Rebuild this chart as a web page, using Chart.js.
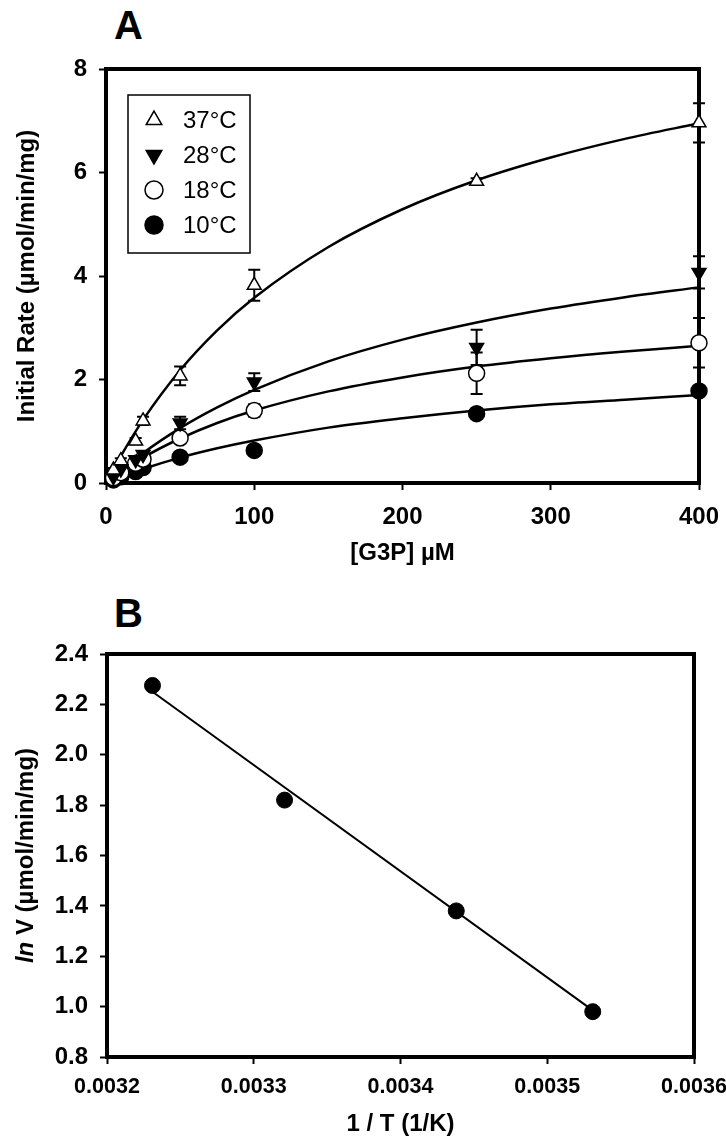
<!DOCTYPE html>
<html>
<head>
<meta charset="utf-8">
<script src="https://cdn.jsdelivr.net/npm/chart.js@4/dist/chart.umd.min.js"></script>
<style>
  body { margin: 0; background: #fff; width: 726px; height: 1145px; position: relative; overflow: hidden; font-family: "Liberation Sans", Arial, sans-serif; }
  .panel-label { position: absolute; left: 114px; font-weight: bold; font-size: 40px; line-height: 40px; color: #000; }
  canvas { position: absolute; left: 0; }
</style>
</head>
<body>
<div class="panel-label" style="top:5px">A</div>
<div class="panel-label" style="top:593px">B</div>
<canvas id="chart-a" width="726" height="580" style="top:0"></canvas>
<canvas id="chart-b" width="726" height="565" style="top:580px"></canvas>
<script>
// Panel A - initial rate vs [G3P]
const conc = [5, 10, 20, 25, 50, 100, 250, 400];
const rate37 = [0.25, 0.43, 0.81, 1.2, 2.07, 3.82, 5.83, 6.96];
const err37 = [0.04, 0.05, 0.06, 0.08, 0.18, 0.3, 0.06, 0.38];
const rate28 = [0.12, 0.27, 0.45, 0.55, 1.16, 1.95, 2.62, 4.07];
const err28 = [0.03, 0.04, 0.05, 0.06, 0.12, 0.17, 0.34, 0.31];
const rate18 = [0.1, 0.2, 0.38, 0.46, 0.87, 1.4, 2.12, 2.71];
const err18 = [0.02, 0.03, 0.04, 0.05, 0.08, 0.12, 0.4, 0.48];
const rate10 = [0.06, 0.12, 0.22, 0.3, 0.5, 0.63, 1.34, 1.78];
const err10 = [0.02, 0.02, 0.03, 0.03, 0.04, 0.05, 0.05, 0.06];

// fitted curves
const fitConc = [0, 10, 25, 50, 75, 100, 150, 200, 250, 300, 350, 400];
const fit37 = [0, 0.52, 1.22, 2.18, 2.95, 3.58, 4.56, 5.29, 5.85, 6.29, 6.65, 6.95];
const fit28 = [0, 0.25, 0.58, 1.06, 1.46, 1.80, 2.35, 2.77, 3.10, 3.37, 3.59, 3.78];
const fit18 = [0, 0.21, 0.49, 0.86, 1.16, 1.40, 1.77, 2.04, 2.25, 2.41, 2.54, 2.65];
const fit10 = [0, 0.11, 0.27, 0.49, 0.67, 0.82, 1.07, 1.25, 1.40, 1.52, 1.61, 1.70];

const tempLabels = ['37°C', '28°C', '18°C', '10°C'];

// Panel B - Arrhenius plot
const invT = [0.003231, 0.003321, 0.003438, 0.003531];
const lnV = [2.275, 1.82, 1.38, 0.98];
const fitInvT = [0.003231, 0.003531];
const fitLnV = [2.25, 0.985];

const FONT = '"Liberation Sans", Arial, sans-serif';
const pts = (xs, ys) => xs.map((x, i) => ({ x: x, y: ys[i] }));

const frame = {
    id: 'frame',
    beforeDatasetsDraw(chart) {
        const { ctx, chartArea: a } = chart;
        ctx.save();
        ctx.strokeStyle = '#000';
        ctx.lineWidth = 4;
        ctx.strokeRect(a.left, a.top, a.right - a.left, a.bottom - a.top);
        ctx.restore();
    }
};

const errorBars = {
    id: 'errorBars',
    beforeDatasetsDraw(chart) {
        const { ctx, scales: { x, y } } = chart;
        ctx.save();
        ctx.strokeStyle = '#000';
        ctx.lineWidth = 2;
        chart.data.datasets.forEach(ds => {
            if (!ds.errors) return;
            ds.data.forEach((p, i) => {
                const e = ds.errors[i];
                const px = x.getPixelForValue(p.x);
                const y1 = y.getPixelForValue(p.y + e);
                const y2 = y.getPixelForValue(p.y - e);
                ctx.beginPath();
                ctx.moveTo(px, y1); ctx.lineTo(px, y2);
                ctx.moveTo(px - 6, y1); ctx.lineTo(px + 6, y1);
                ctx.moveTo(px - 6, y2); ctx.lineTo(px + 6, y2);
                ctx.stroke();
            });
        });
        ctx.restore();
    }
};

// legend box drawn inside the plot, like the original
const boxLegend = {
    id: 'boxLegend',
    afterDraw(chart) {
        const { ctx, chartArea: a } = chart;
        const left = a.left + 22, top = a.top + 26;
        ctx.save();
        ctx.strokeStyle = '#000';
        ctx.lineWidth = 1.5;
        ctx.strokeRect(left, top, 122, 158);
        ctx.font = '24px ' + FONT;
        ctx.textBaseline = 'middle';
        ctx.textAlign = 'left';
        chart.data.datasets.filter(ds => ds.legendRow !== undefined).forEach(ds => {
            const cy = top + 25 + ds.legendRow * 35;
            ctx.fillStyle = ds.backgroundColor;
            ctx.strokeStyle = '#000';
            ctx.lineWidth = ds.borderWidth;
            Chart.helpers.drawPoint(ctx, {
                pointStyle: ds.pointStyle, radius: 9, rotation: ds.rotation || 0, borderWidth: ds.borderWidth
            }, left + 26, cy);
            ctx.fillStyle = '#000';
            ctx.fillText(ds.label, left + 55, cy + 1);
        });
        ctx.restore();
    }
};

const yTitleB = {
    id: 'yTitleB',
    afterDraw(chart) {
        const { ctx, chartArea: a } = chart;
        const f1 = 'italic bold 24px ' + FONT, f2 = 'bold 24px ' + FONT;
        const rest = ' V (µmol/min/mg)';
        ctx.save();
        ctx.translate(26, (a.top + a.bottom) / 2);
        ctx.rotate(-Math.PI / 2);
        ctx.fillStyle = '#000';
        ctx.textBaseline = 'middle';
        ctx.textAlign = 'left';
        ctx.font = f1;
        const w1 = ctx.measureText('ln').width;
        ctx.font = f2;
        const w2 = ctx.measureText(rest).width;
        const x0 = -(w1 + w2) / 2;
        ctx.font = f1;
        ctx.fillText('ln', x0, 0);
        ctx.font = f2;
        ctx.fillText(rest, x0 + w1, 0);
        ctx.restore();
    }
};

// fixed axis box sizes so the plot frames land where the original has them
function fixX(h) {
    return s => { s.height = h; s.paddingLeft = 0; s.paddingRight = 0; };
}
function fixY(w) {
    return s => { s.width = w; s.paddingTop = 0; s.paddingBottom = 0; };
}

function axis(min, max, step, digits, pad, size, extra) {
    return Object.assign({
        type: 'linear',
        min: min,
        max: max,
        border: { display: false },
        grid: { drawOnChartArea: false, drawTicks: true, tickLength: 7, tickWidth: 2, tickColor: '#000' },
        ticks: {
            stepSize: step,
            padding: pad,
            color: '#000',
            font: { family: FONT, size: size, weight: 'bold' },
            callback: v => digits === null ? v : Number(v).toFixed(digits)
        }
    }, extra);
}

function scatterSet(label, xs, ys, errs, style, row) {
    return {
        type: 'scatter',
        label: label,
        data: pts(xs, ys),
        errors: errs,
        legendRow: row,
        pointStyle: style.shape,
        rotation: style.rotation || 0,
        pointRotation: style.rotation || 0,
        pointRadius: 8,
        backgroundColor: style.fill,
        pointBackgroundColor: style.fill,
        borderColor: '#000',
        pointBorderColor: '#000',
        borderWidth: 1.5,
        pointBorderWidth: 1.5,
        clip: false,
        order: 0
    };
}

function fitSet(xs, ys) {
    return {
        type: 'line',
        data: pts(xs, ys),
        borderColor: '#000',
        borderWidth: 2.5,
        pointRadius: 0,
        fill: false,
        cubicInterpolationMode: 'monotone',
        clip: false,
        order: 1
    };
}

new Chart(document.getElementById('chart-a'), {
    type: 'scatter',
    data: {
        datasets: [
            scatterSet(tempLabels[0], conc, rate37, err37, { shape: 'triangle', fill: '#fff' }, 0),
            scatterSet(tempLabels[1], conc, rate28, err28, { shape: 'triangle', fill: '#000', rotation: 180 }, 1),
            scatterSet(tempLabels[2], conc, rate18, err18, { shape: 'circle', fill: '#fff' }, 2),
            scatterSet(tempLabels[3], conc, rate10, err10, { shape: 'circle', fill: '#000' }, 3),
            fitSet(fitConc, fit37),
            fitSet(fitConc, fit28),
            fitSet(fitConc, fit18),
            fitSet(fitConc, fit10)
        ]
    },
    options: {
        responsive: false,
        animation: false,
        events: [],
        layout: { padding: { left: 0, right: 27, top: 69, bottom: 0 } },
        plugins: { legend: { display: false }, tooltip: { enabled: false } },
        scales: {
            x: axis(0, 400, 100, null, 13, 24, {
                afterFit: fixX(97),
                title: { display: true, text: '[G3P] µM', color: '#000', font: { family: FONT, size: 24, weight: 'bold' }, padding: { top: 0, bottom: 12 } }
            }),
            y: axis(0, 8, 2, null, 12, 24, {
                afterFit: fixY(106),
                title: { display: true, text: 'Initial Rate (µmol/min/mg)', color: '#000', font: { family: FONT, size: 24, weight: 'bold' }, padding: { top: 13, bottom: 0 } }
            })
        }
    },
    plugins: [frame, errorBars, boxLegend]
});

new Chart(document.getElementById('chart-b'), {
    type: 'scatter',
    data: {
        datasets: [
            {
                type: 'scatter',
                data: pts(invT, lnV),
                pointStyle: 'circle',
                pointRadius: 8,
                pointBackgroundColor: '#000',
                pointBorderColor: '#000',
                pointBorderWidth: 1,
                clip: false,
                order: 0
            },
            {
                type: 'line',
                data: pts(fitInvT, fitLnV),
                borderColor: '#000',
                borderWidth: 2,
                pointRadius: 0,
                fill: false,
                clip: false,
                order: 1
            }
        ]
    },
    options: {
        responsive: false,
        animation: false,
        events: [],
        layout: { padding: { left: 0, right: 32, top: 74, bottom: 0 } },
        plugins: { legend: { display: false }, tooltip: { enabled: false } },
        scales: {
            x: axis(0.0032, 0.0036, 0.0001, 4, 10, 21.5, {
                afterFit: fixX(88),
                title: { display: true, text: '1 / T (1/K)', color: '#000', font: { family: FONT, size: 24, weight: 'bold' }, padding: { top: 0, bottom: 6 } }
            }),
            y: axis(0.8, 2.4, 0.2, 1, 12, 24, {
                afterFit: fixY(107)
            })
        }
    },
    plugins: [frame, yTitleB]
});
</script>
</body>
</html>
